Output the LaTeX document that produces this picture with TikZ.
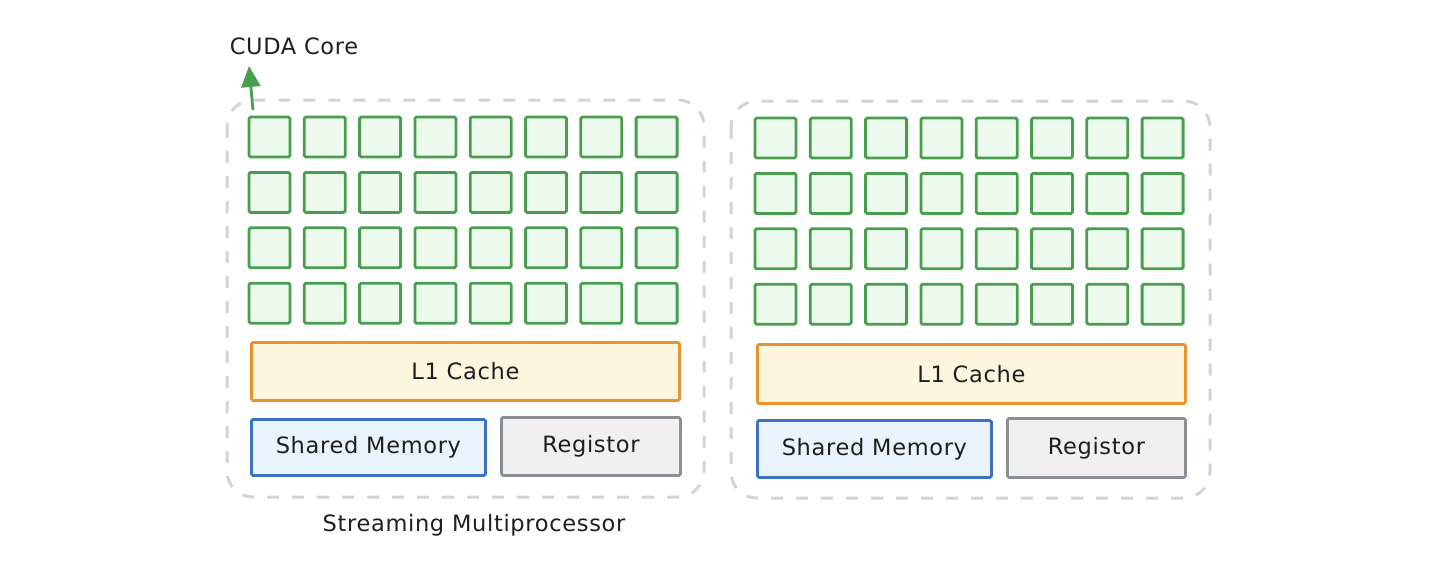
\documentclass[tikz,border=0pt]{standalone}
\usepackage{fontspec}
\setmainfont{DejaVu Sans}[LetterSpace=3]
\usetikzlibrary{arrows.meta}
\definecolor{gstroke}{HTML}{479E4C}
\definecolor{gfill}{HTML}{EDFAEE}
\definecolor{ostroke}{HTML}{E8932E}
\definecolor{ofill}{HTML}{FDF6DE}
\definecolor{bstroke}{HTML}{3A72C0}
\definecolor{bfill}{HTML}{E8F3FD}
\definecolor{kstroke}{HTML}{8A8F96}
\definecolor{kfill}{HTML}{F0F0F0}
\definecolor{dstroke}{HTML}{CED4DA}
\definecolor{txt}{HTML}{1E1E1E}
\begin{document}
\begin{tikzpicture}[x=1pt,y=-1pt,
  smbox/.style={draw=dstroke,line width=3pt,rounded corners=26pt,dash pattern=on 12pt off 13pt},
  cell/.style={draw=gstroke,fill=gfill,line width=2.8pt,rounded corners=1.5pt},
  cachebox/.style={draw=ostroke,fill=ofill,line width=2.8pt,rounded corners=1.5pt},
  shbox/.style={draw=bstroke,fill=bfill,line width=2.8pt,rounded corners=1.5pt},
  regbox/.style={draw=kstroke,fill=kfill,line width=2.8pt,rounded corners=1.5pt},
  lbl/.style={text=txt,font=\fontsize{22.5}{26}\selectfont,inner sep=0pt},
  arr/.style={draw=gstroke,line width=2.8pt,-{Triangle[length=21pt,width=19pt]}}]
\useasboundingbox (0,0) rectangle (1448,584);
% containers
\draw[smbox] (227,100) rectangle (704,497);
\draw[smbox] (731,101) rectangle (1210,498);
% cells
\foreach \ox/\oy/\s in {249/117/L,755/118/R}{
  \foreach \c in {0,...,7}{
    \foreach \r in {0,...,3}{
      \path[cell] ({\ox+\c*55.3},{\oy+\r*55.4}) rectangle ++(41,40);
      \node[inner sep=0pt,minimum size=0pt] (c-\s-\r-\c) at ({\ox+\c*55.3+20.5},{\oy+\r*55.4+20}) {};
    }
  }
}
% left SM
\node[cachebox,minimum width=428pt,minimum height=58pt,anchor=north west] (cacheL) at (250,341) {};
\node[lbl] at (cacheL.center) {L1 Cache};
\node[shbox,minimum width=234pt,minimum height=56pt,anchor=north west] (shL) at (250,418) {};
\node[lbl] at (shL.center) {Shared Memory};
\node[regbox,minimum width=179pt,minimum height=58pt,anchor=north west] (regL) at (500,416) {};
\node[lbl] at (regL.center) {Registor};
% right SM
\node[cachebox,minimum width=428pt,minimum height=59pt,anchor=north west] (cacheR) at (756,343) {};
\node[lbl] at (cacheR.center) {L1 Cache};
\node[shbox,minimum width=234pt,minimum height=57pt,anchor=north west] (shR) at (756,419) {};
\node[lbl] at (shR.center) {Shared Memory};
\node[regbox,minimum width=178pt,minimum height=59pt,anchor=north west] (regR) at (1006,417) {};
\node[lbl] at (regR.center) {Registor};
% labels
\node[lbl] (smlabel) at (474,525) {Streaming Multiprocessor};
\node[lbl] (cudalabel) at (294,46) {CUDA Core};
\coordinate (arrtail) at (253,110);
\coordinate (arrtip) at (249,66);
\draw[arr] (arrtail) -- (arrtip);
\end{tikzpicture}
\end{document}
